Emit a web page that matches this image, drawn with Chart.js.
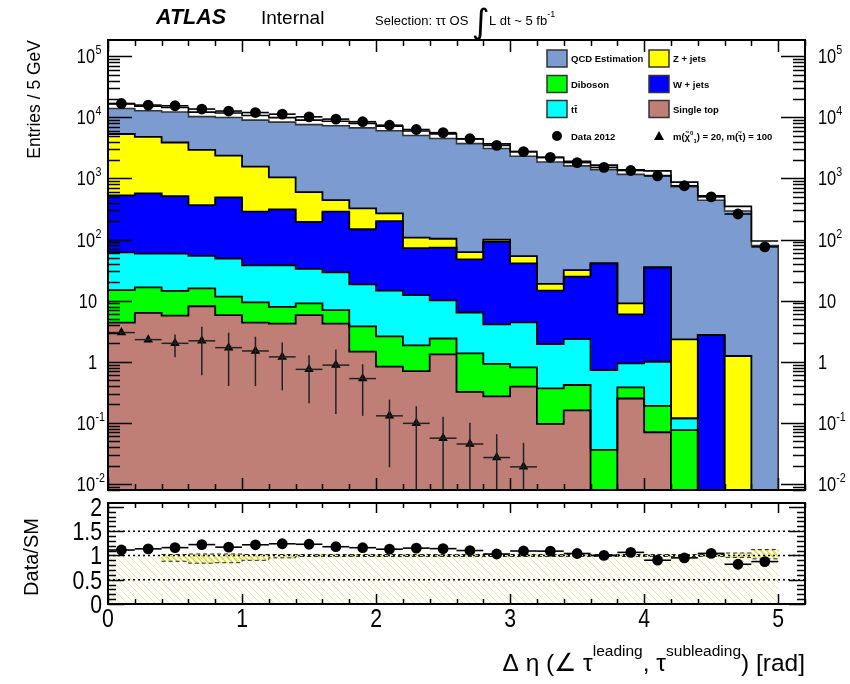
<!DOCTYPE html>
<html>
<head>
<meta charset="utf-8">
<title>Delta eta tau tau</title>
<script src="https://cdn.jsdelivr.net/npm/chart.js@4.4.1/dist/chart.umd.min.js"></script>
<style>
  html, body { margin: 0; padding: 0; background: #fff; }
  #wrap { position: relative; width: 850px; height: 684px; }
  #wrap canvas { position: absolute; left: 0; top: 0; }
</style>
</head>
<body>
<div id="wrap">
  <canvas id="main" width="850" height="684"></canvas>
  <canvas id="ratio" width="850" height="684"></canvas>
</div>
<script>
// bins of 0.2 rad
var binCentres = [0.1, 0.3, 0.5, 0.7, 0.9, 1.1, 1.3, 1.5, 1.7, 1.9, 2.1, 2.3, 2.5,
                  2.7, 2.9, 3.1, 3.3, 3.5, 3.7, 3.9, 4.1, 4.3, 4.5, 4.7, 4.9];
var binWidth = 0.2;

// backgrounds, bottom of the stack first
var singleTop = [4.35, 6.3, 5.7, 8.1, 5.8, 4.35, 4.2, 5.8, 4.2, 1.46, 0.83, 0.70, 1.32,
                 0.32, 0.27, 0.39, 0.096, 0.16, 0, 0.25, 0.07, 0, 0, 0, 0];
var diboson = [10.5, 10.2, 8.8, 7.8, 5.8, 5.05, 3.7, 3.2, 2.8, 2.34, 1.77, 1.15, 1.08,
               1.05, 0.65, 0.42, 0.27, 0.256, 0.036, 0.13, 0.12, 0.076, 0, 0, 0];
var ttbar = [47, 42.5, 44.5, 38, 37.4, 28.4, 30.1, 24, 22, 14.6, 12, 10.45, 7.7,
             5.03, 3.18, 3.59, 1.58, 1.93, 0.69, 0.56, 0.81, 0.042, 0, 0, 0];
var wJets = [468, 511, 456, 313, 441, 248, 274, 161, 257, 129, 185, 60, 63.5,
             40.9, 87.9, 36.3, 12.6, 22.3, 40, 5.0, 34, 0, 2.73, 0, 0];
var zJets = [4820, 4230, 3365, 2563, 1870, 1274, 728, 406, 157, 177, 69, 35, 29.4,
             15.1, 8, 13, 4.2, 7.0, 0, 3.05, 0, 2.2, 0, 1.24, 0];
var qcd = [9850, 9200, 9470, 8270, 8490, 8280, 8070, 7690, 7500, 7006, 6331, 5393, 4827,
           3998, 3280, 2466, 2011, 1718, 1479, 1261, 1185, 798, 477, 319, 87];

var data2012 = [16900, 15900, 15500, 13700, 12700, 12000, 11300, 10200, 9370, 8500, 7450, 6330, 5620,
                4470, 3480, 2750, 2210, 1820, 1520, 1350, 1100, 760, 500, 262, 76];
var ratioErr = [0.01, 0.01, 0.04, 0.07, 0.04, 0.02, 0.01, 0.01, 0.01, 0.01, 0.01, 0.01, 0.01,
                0.01, 0.01, 0.01, 0.01, 0.01, 0.01, 0.01, 0.02, 0.02, 0.03, 0.03, 0.06];
var bandLo = [null, null, 0.88, 0.84, 0.85, 0.90, 0.95, 0.98, 0.98, 0.98, 0.98, 0.98, 0.98,
              0.98, 0.98, 0.98, 0.98, 0.98, 0.98, 0.98, 0.98, 0.98, 0.98, 0.96, 0.93];
var bandHi = [null, null, 1.02, 1.03, 1.03, 1.02, 1.02, 1.02, 1.02, 1.02, 1.02, 1.02, 1.02,
              1.02, 1.02, 1.02, 1.02, 1.02, 1.02, 1.02, 1.02, 1.02, 1.02, 1.05, 1.12];

// m(chi) = 20, m(stau) = 100
var signal = [3.0, 2.3, 2.0, 2.2, 1.7, 1.5, 1.2, 0.75, 0.88, 0.53, 0.13, 0.098, 0.056,
              0.045, 0.027, 0.019, null, null, null, null, null, null, null, null, null];
var signalLo = [2.9, 2.2, 1.18, 0.6, 0.4, 0.4, 0.34, 0.21, 0.14, 0.13, 0.0187, 0, 0,
                0, 0, 0, null, null, null, null, null, null, null, null, null];
var signalHi = [3.1, 2.4, 2.8, 3.74, 3.0, 2.57, 2.07, 1.28, 1.59, 0.91, 0.24, 0.187, 0.126,
                0.1, 0.065, 0.047, null, null, null, null, null, null, null, null, null];

var logDecades = [-2, -1, 0, 1, 2, 3, 4, 5];
var ratioLabels = [0, 0.5, 1, 1.5, 2];
var xLabels = [0, 1, 2, 3, 4, 5];

var SANS = "'Liberation Sans', Arial, sans-serif";
var NARROW = 0.82;   // no narrow face installed, squeeze the regular one
var logMin = Math.pow(10, -2.1), logMax = Math.pow(10, 5.267);

var layers = [
    {label: 'Single top', values: singleTop, color: '#bf7f76'},
    {label: 'Diboson', values: diboson, color: '#00ff00'},
    {label: 'tt\u0304', values: ttbar, color: '#00ffff'},
    {label: 'W + jets', values: wJets, color: '#0000ff'},
    {label: 'Z + jets', values: zJets, color: '#ffff00'},
    {label: 'QCD Estimation', values: qcd, color: '#7b9bd1'}
];

var cumul = [];
var run = binCentres.map(function() { return 0; });
layers.forEach(function(l) {
    run = run.map(function(v, i) { return v + l.values[i]; });
    cumul.push(run);
});
var total = cumul[cumul.length - 1];
var ratio = data2012.map(function(d, i) { return d / total[i]; });

// histogram outline as points for a stepped line; empty bins sit on the floor
// (a log axis drops zeros, which would break the line)
function stepPoints(vals, floor) {
    var first = -1, last = -1, pts = [];
    vals.forEach(function(v, i) {
        if (v !== null) { if (first < 0) first = i; last = i; }
    });
    var lift = function(v) { return (floor !== undefined && v <= floor) ? floor : v; };
    var x0 = binCentres[first] - binWidth / 2, x1 = binCentres[last] + binWidth / 2;
    if (floor !== undefined) pts.push({x: x0, y: floor});
    for (var i = first; i <= last; i++) pts.push({x: binCentres[i] - binWidth / 2, y: lift(vals[i])});
    pts.push({x: x1, y: lift(vals[last])});
    if (floor !== undefined) pts.push({x: x1, y: floor});
    return pts;
}

function points(vals) {
    return binCentres.map(function(x, i) { return {x: x, y: vals[i]}; });
}

function hatch(color, step, width) {
    var c = document.createElement('canvas');
    c.width = step; c.height = step;
    var g = c.getContext('2d');
    g.strokeStyle = color;
    g.lineWidth = width;
    g.beginPath();
    g.moveTo(0, 0); g.lineTo(step, step);
    g.moveTo(-2, step - 2); g.lineTo(2, step + 2);
    g.moveTo(step - 2, -2); g.lineTo(step + 2, 2);
    g.stroke();
    return g.createPattern(c, 'repeat');
}

// text made of pieces [text, size, dy, style, xscale, family]
function rich(ctx, pieces, x, y, align) {
    var w = 0;
    pieces.forEach(function(p) {
        ctx.font = (p[3] || '') + ' ' + p[1] + 'px ' + (p[5] || SANS);
        p.sx = p[4] || 1;
        p.w = ctx.measureText(p[0]).width * p.sx;
        w += p.w;
    });
    var cx = align === 'right' ? x - w : (align === 'center' ? x - w / 2 : x);
    ctx.textAlign = 'left';
    pieces.forEach(function(p) {
        ctx.font = (p[3] || '') + ' ' + p[1] + 'px ' + (p[5] || SANS);
        ctx.save();
        ctx.translate(cx, y + p[2]);
        ctx.scale(p.sx, 1);
        ctx.fillText(p[0], 0, 0);
        ctx.restore();
        cx += p.w;
    });
}

function seg(ctx, x1, y1, x2, y2) {
    ctx.beginPath(); ctx.moveTo(x1, y1); ctx.lineTo(x2, y2); ctx.stroke();
}

var errorBars = {
    id: 'errorBars',
    afterDatasetsDraw: function(chart) {
        var ctx = chart.ctx, a = chart.chartArea;
        ctx.save();
        ctx.beginPath();
        ctx.rect(a.left, a.top, a.right - a.left, a.bottom - a.top);
        ctx.clip();
        chart.data.datasets.forEach(function(ds) {
            if (!ds.errorBars) return;
            var xs = chart.scales.x, ys = chart.scales[ds.yAxisID || 'y'];
            ctx.strokeStyle = ds.errorBars.color || '#000';
            ctx.lineWidth = ds.errorBars.width;
            ds.data.forEach(function(p, i) {
                if (p.y === null) return;
                var px = xs.getPixelForValue(p.x), py = ys.getPixelForValue(p.y);
                seg(ctx, xs.getPixelForValue(p.x - binWidth / 2), py, xs.getPixelForValue(p.x + binWidth / 2), py);
                var lo = ds.errorBars.lo ? ds.errorBars.lo[i] : null;
                var hi = ds.errorBars.hi ? ds.errorBars.hi[i] : null;
                if (lo !== null && hi !== null) seg(ctx, px, ys.getPixelForValue(lo), px, ys.getPixelForValue(hi));
            });
        });
        ctx.restore();
    }
};

function xTicks(ctx, xs, a, major, minor, top, bottom) {
    for (var k = 0; k <= 26; k++) {
        var v = k * 0.2;
        if (v > xs.max + 1e-9) break;
        var px = Math.round(xs.getPixelForValue(v)) + 0.5;
        var len = (k % 5 === 0) ? major : minor;
        if (bottom) seg(ctx, px, a.bottom, px, a.bottom - len);
        if (top) seg(ctx, px, a.top, px, a.top + len);
    }
}

var mainDecor = {
    id: 'mainDecor',
    afterDraw: function(chart) {
        var ctx = chart.ctx, a = chart.chartArea, xs = chart.scales.x, ys = chart.scales.y;
        ctx.save();
        ctx.strokeStyle = '#000';
        ctx.fillStyle = '#000';
        ctx.lineWidth = 1.5;
        for (var e = -3; e <= 5; e++) {
            for (var m = 1; m <= 9; m++) {
                var v = m * Math.pow(10, e);
                if (v < ys.min || v > ys.max) continue;
                var py = Math.round(ys.getPixelForValue(v)) + 0.5;
                var len = m === 1 ? 24 : 12;
                seg(ctx, a.left, py, a.left + len, py);
                seg(ctx, a.right - len, py, a.right, py);
            }
        }
        xTicks(ctx, xs, a, 12, 6, true, true);
        ctx.lineWidth = 2;
        ctx.strokeRect(a.left, a.top, a.right - a.left, a.bottom - a.top);

        // decade labels on both sides
        ctx.textBaseline = 'alphabetic';
        logDecades.forEach(function(d) {
            var y = ys.getPixelForValue(Math.pow(10, d));
            var ex = String(d);
            if (d === 0 || d === 1) {
                var t = d === 0 ? '1' : '10';
                rich(ctx, [[t, 20, 0, '', NARROW]], 97, y + 7, 'right');
                rich(ctx, [[t, 20, 0, '', NARROW]], 818, y + 7, 'left');
            } else {
                rich(ctx, [['10', 20, 0, '', NARROW]], 95, y + 7, 'right');
                rich(ctx, [[ex, 13, 0, '', NARROW]], 95.5, y - 2, 'left');
                rich(ctx, [['10', 20, 7, '', NARROW], [ex, 13, -2, '', NARROW]], 818, y, 'left');
            }
        });

        // header
        rich(ctx, [['ATLAS', 21.5, 0, 'italic bold']], 156, 24, 'left');
        rich(ctx, [['Internal', 19, 0]], 261, 24, 'left');
        rich(ctx, [['Selection: \u03c4\u03c4 OS', 13, 0]], 375, 25, 'left');
        rich(ctx, [['\u222b', 34, 0, '', 1, "'DejaVu Sans'"]], 472, 33, 'left');
        rich(ctx, [['L dt ~ 5 fb', 13, 0], ['-1', 9, -8]], 489, 25, 'left');

        // y title
        ctx.save();
        ctx.translate(40, 40);
        ctx.rotate(-Math.PI / 2);
        rich(ctx, [['Entries / 5 GeV', 17.5, 0]], 0, 0, 'right');
        ctx.restore();

        // legend
        var boxes = [[5, 547, 50], [1, 547, 75.5], [2, 547, 100.5], [4, 649, 50], [3, 649, 75.5], [0, 649, 100.5]];
        boxes.forEach(function(b) {
            var l = layers[b[0]];
            ctx.fillStyle = l.color;
            ctx.fillRect(b[1], b[2], 20, 17);
            ctx.strokeStyle = '#333';
            ctx.lineWidth = 1.5;
            ctx.strokeRect(b[1], b[2], 20, 17);
            ctx.fillStyle = '#000';
            rich(ctx, [[l.label, 9.5, 0, 'bold']], b[1] + 24, b[2] + 12, 'left');
        });
        ctx.beginPath();
        ctx.arc(557, 136, 5, 0, 2 * Math.PI);
        ctx.fill();
        rich(ctx, [['Data 2012', 9.5, 0, 'bold']], 571, 139.5, 'left');
        ctx.beginPath();
        ctx.moveTo(659, 131); ctx.lineTo(664, 140); ctx.lineTo(654, 140);
        ctx.closePath();
        ctx.fill();
        rich(ctx, [['m(\u03c7\u0303', 9.5, 0, 'bold'], ['0', 6, -5, 'bold'], ['1', 6, 3, 'bold'],
                   [') = 20, m(\u03c4\u0303) = 100', 9.5, 0, 'bold']], 673, 139.5, 'left');
        ctx.restore();
    }
};

var ratioDecor = {
    id: 'ratioDecor',
    afterDraw: function(chart) {
        var ctx = chart.ctx, a = chart.chartArea, xs = chart.scales.x, ys = chart.scales.y;
        ctx.save();
        ctx.strokeStyle = '#000';
        ctx.fillStyle = '#000';
        ctx.lineWidth = 1.5;
        for (var k = 0; k <= 20; k++) {
            var v = k * 0.1;
            var py = Math.round(ys.getPixelForValue(v)) + 0.5;
            var len = (k % 5 === 0) ? 16 : 8;
            seg(ctx, a.left, py, a.left + len, py);
            seg(ctx, a.right - len, py, a.right, py);
        }
        xTicks(ctx, xs, a, 10, 5, true, true);
        ctx.lineWidth = 2;
        ctx.strokeRect(a.left, a.top, a.right - a.left, a.bottom - a.top);

        ctx.textBaseline = 'alphabetic';
        ratioLabels.forEach(function(v) {
            rich(ctx, [[String(v), 25, 0, '', 0.85]], 102, ys.getPixelForValue(v) + 9, 'right');
        });
        xLabels.forEach(function(v) {
            rich(ctx, [[String(v), 25, 0, '', 0.85]], xs.getPixelForValue(v), 627, 'center');
        });
        rich(ctx, [['\u0394 \u03b7 (\u2220 \u03c4', 24.5, 0], ['leading', 15.5, -15], [', \u03c4', 24.5, 0],
                   ['subleading', 15.5, -15], [') [rad]', 24.5, 0]], 805, 671, 'right');

        ctx.save();
        ctx.translate(38, 557);
        ctx.rotate(-Math.PI / 2);
        rich(ctx, [['Data/SM', 20, 0]], 0, 0, 'center');
        ctx.restore();
        ctx.restore();
    }
};

// slight overlap so neighbouring bins leave no seam
var barOpts = {borderWidth: 0, grouped: false, barPercentage: 1.05, categoryPercentage: 1};

var mainSets = [];
mainSets.push({
    type: 'scatter', label: 'Data 2012', data: points(data2012), yAxisID: 'y2',
    backgroundColor: '#000', borderWidth: 0, pointRadius: 5.4, order: 0,
    errorBars: {width: 1.6}
});
mainSets.push({
    type: 'scatter', label: 'signal', data: points(signal), yAxisID: 'y2',
    pointStyle: 'triangle', backgroundColor: '#000', borderWidth: 0, pointRadius: 5.5, order: 1,
    errorBars: {lo: signalLo, hi: signalHi, width: 1.5, color: '#222'}
});
mainSets.push({
    type: 'line', data: stepPoints(total.map(function(v) { return v * 1.09; })), yAxisID: 'y2',
    stepped: 'before', borderColor: '#000', borderWidth: 1.6, pointRadius: 0, fill: false, order: 2
});
mainSets.push({
    type: 'line', data: stepPoints(total.map(function(v) { return v / 1.09; }), logMin), yAxisID: 'y2',
    stepped: 'before', borderColor: '#333', borderWidth: 1.6, pointRadius: 0, fill: false, order: 2
});
cumul.slice(0, 5).forEach(function(c) {
    mainSets.push({
        type: 'line', data: stepPoints(c, logMin), yAxisID: 'y2',
        stepped: 'before', borderColor: '#000', borderWidth: 1.8, pointRadius: 0, fill: false, order: 3
    });
});
mainSets.push(Object.assign({
    type: 'bar', data: binCentres.map(function(x, i) { return {x: x, y: [total[i] / 1.09, total[i] * 1.09]}; }),
    yAxisID: 'y2', backgroundColor: '#fff', order: 4
}, barOpts));
layers.forEach(function(l) {
    mainSets.push(Object.assign({
        type: 'bar', label: l.label, data: points(l.values), yAxisID: 'y',
        backgroundColor: l.color, order: 5
    }, barOpts));
});

new Chart(document.getElementById('main').getContext('2d'), {
    type: 'bar',
    data: {datasets: mainSets},
    options: {
        responsive: false,
        animation: false,
        events: [],
        layout: {padding: {left: 108, top: 40, right: 45, bottom: 194}},
        plugins: {legend: {display: false}, tooltip: {enabled: false}},
        scales: {
            x: {type: 'linear', min: 0, max: 5.2, offset: false, display: false, ticks: {stepSize: 1}},
            y: {type: 'logarithmic', min: logMin, max: logMax, stacked: true, display: false},
            y2: {type: 'logarithmic', min: logMin, max: logMax, display: false}
        }
    },
    plugins: [errorBars, mainDecor]
});

var ratioSets = [];
ratioSets.push({
    type: 'scatter', data: points(ratio), backgroundColor: '#000', borderWidth: 0, pointRadius: 5.4, order: 0,
    errorBars: {
        lo: ratio.map(function(r, i) { return r - ratioErr[i]; }),
        hi: ratio.map(function(r, i) { return r + ratioErr[i]; }),
        width: 1.6
    }
});
[0.5, 1, 1.5].forEach(function(v) {
    ratioSets.push({
        type: 'line', data: [{x: 0, y: v}, {x: 5.2, y: v}], borderColor: '#000', borderWidth: 1.5,
        borderDash: [2, 3], pointRadius: 0, fill: false, order: 1
    });
});
[bandLo, bandHi].forEach(function(b) {
    ratioSets.push({
        type: 'line', data: stepPoints(b), stepped: 'before', borderColor: '#222', borderWidth: 1,
        borderDash: [4, 3], pointRadius: 0, fill: false, order: 2
    });
});
ratioSets.push(Object.assign({
    type: 'bar', data: binCentres.map(function(x, i) { return {x: x, y: bandLo[i] === null ? null : [bandLo[i], bandHi[i]]}; }),
    backgroundColor: hatch('#e2d800', 6, 1.4), order: 3
}, barOpts));
ratioSets.push(Object.assign({
    type: 'bar', data: binCentres.map(function(x) { return {x: x, y: [0, 1]}; }),
    backgroundColor: hatch('rgba(235, 228, 130, 0.8)', 7, 1), order: 4
}, barOpts));

new Chart(document.getElementById('ratio').getContext('2d'), {
    type: 'bar',
    data: {datasets: ratioSets},
    options: {
        responsive: false,
        animation: false,
        events: [],
        layout: {padding: {left: 108, top: 503, right: 45, bottom: 80}},
        plugins: {legend: {display: false}, tooltip: {enabled: false}},
        scales: {
            x: {type: 'linear', min: 0, max: 5.2, offset: false, display: false, ticks: {stepSize: 1}},
            y: {type: 'linear', min: 0, max: 2.08, display: false}
        }
    },
    plugins: [errorBars, ratioDecor]
});
</script>
</body>
</html>
